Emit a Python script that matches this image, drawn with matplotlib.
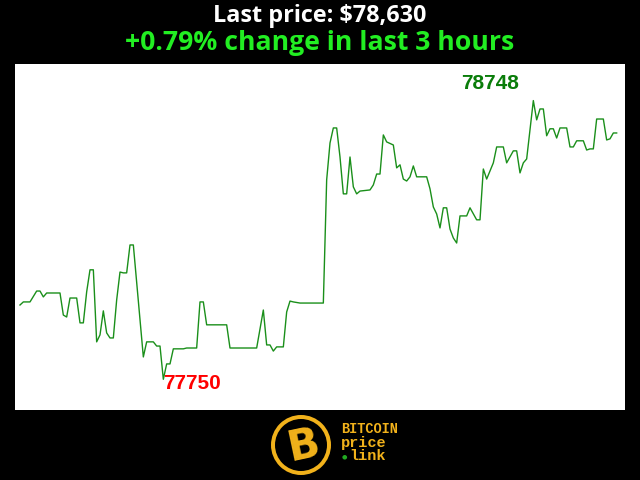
import matplotlib
matplotlib.use("Agg")
import matplotlib.pyplot as plt
from matplotlib.patches import Circle

# ---- data (minute index, price) ----
minutes = [0, 1, 3, 5, 6, 7, 8, 12, 13, 14, 15, 17, 18, 19, 20, 21, 22, 23, 24, 25,
           26, 27, 28, 29, 30, 31, 32, 33, 34, 37, 38, 40, 41, 42, 43, 44, 45, 46, 49, 50,
           53, 54, 55, 56, 62, 63, 71, 73, 74, 75, 76, 77, 79, 80, 81, 82, 84, 91, 92, 93,
           94, 95, 96, 97, 98, 99, 100, 101, 102, 105, 106, 107, 108, 109, 110, 112, 113, 114, 115, 116,
           117, 118, 119, 122, 123, 124, 125, 126, 127, 128, 129, 130, 131, 132, 134, 135, 137, 138, 139, 140,
           142, 143, 145, 146, 148, 149, 150, 151, 152, 154, 155, 156, 157, 158, 159, 160, 161, 162, 164, 165,
           166, 167, 169, 170, 171, 172, 173, 175, 176, 177, 178, 179]
prices = [78016, 78027, 78027, 78066, 78066, 78045, 78059, 78059, 77980, 77973, 78041, 78041, 77952, 77952, 78063, 78142, 78142, 77884, 77909, 77995,
          77916, 77898, 77898, 78034, 78134, 78131, 78131, 78231, 78231, 77830, 77884, 77884, 77869, 77869, 77750, 77805, 77805, 77859, 77859, 77862,
          77862, 78027, 78027, 77945, 77945, 77862, 77862, 77998, 77873, 77873, 77851, 77866, 77866, 77991, 78030, 78027, 78023, 78023, 78464, 78596,
          78650, 78650, 78546, 78414, 78414, 78546, 78439, 78414, 78424, 78428, 78446, 78485, 78485, 78625, 78600, 78589, 78507, 78518, 78467, 78460,
          78475, 78514, 78475, 78475, 78432, 78367, 78342, 78292, 78364, 78364, 78288, 78256, 78238, 78335, 78335, 78364, 78321, 78321, 78503, 78467,
          78525, 78582, 78582, 78525, 78568, 78568, 78489, 78525, 78539, 78748, 78679, 78718, 78718, 78622, 78647, 78647, 78614, 78650, 78650, 78582,
          78582, 78604, 78604, 78571, 78575, 78575, 78682, 78682, 78607, 78611, 78632, 78632]

title_price = "Last price: $78,630"
title_change = "+0.79% change in last 3 hours"
min_label = "77750"
max_label = "78748"

fig = plt.figure(figsize=(6.4, 4.8), dpi=100, facecolor="black")
ax = fig.add_axes([15/640, 70/480, 610/640, 346/480])
ax.set_facecolor("white")
ax.plot(minutes, prices, color="#1a8f1a", linewidth=1.0)
ax.set_xlim(-1.5, 181.5)
ax.set_ylim(77640, 78879)
ax.set_xticks([])
ax.set_yticks([])
for s in ax.spines.values():
    s.set_visible(False)

imin = prices.index(min(prices))
imax = prices.index(max(prices))
ax.annotate(min_label, (minutes[imin], prices[imin]), xytext=(0, -4), textcoords="offset pixels",
            ha="left", va="center", color="#ff0000", fontsize=15, fontweight="bold",
            family="Liberation Sans")
ax.annotate(max_label, (minutes[imax], prices[imax]), xytext=(-43, 17), textcoords="offset pixels",
            ha="center", va="center", color="#0a7d0a", fontsize=15, fontweight="bold",
            family="Liberation Sans")

fig.text(0.5, 1 - 16/480, title_price, ha="center", va="center", color="white",
         fontsize=16.8, fontweight="bold", family="Open Sans")
fig.text(0.5, 1 - 43/480, title_change, ha="center", va="center", color="#22ee22",
         fontsize=19.2, fontweight="bold", family="Open Sans")

# ---- logo ----
gold = "#f2b21b"
lax = fig.add_axes([0, 0, 1, 70/480])
lax.set_xlim(0, 640)
lax.set_ylim(70, 0)
lax.axis("off")
lax.add_patch(Circle((301, 35), 30, facecolor=gold, edgecolor="none"))
lax.add_patch(Circle((301, 35), 26, facecolor="black", edgecolor="none"))
lax.text(303, 36, "B", ha="center", va="center", color=gold, fontsize=30,
         fontweight="bold", family="DejaVu Sans", rotation=12)
lax.text(341, 23, "BITCOIN", ha="left", va="baseline", color=gold, fontsize=9.8,
         fontweight="bold", family="Liberation Mono")
lax.text(341, 37, "price", ha="left", va="baseline", color=gold, fontsize=11,
         fontweight="bold", family="Liberation Mono")
lax.text(342, 47, "\u25cf", ha="left", va="center", color="#22aa22", fontsize=4.5,
         family="DejaVu Sans")
lax.text(349, 50, "link", ha="left", va="baseline", color=gold, fontsize=11,
         fontweight="bold", family="Liberation Mono")

fig.savefig("out.png", dpi=100, facecolor="black")
